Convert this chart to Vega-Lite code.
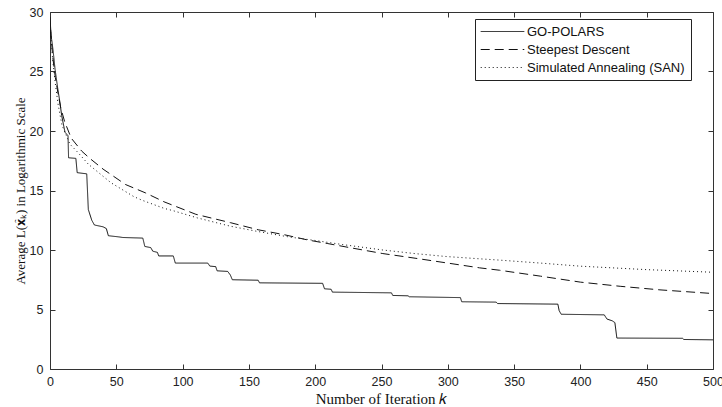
{
  "$schema": "https://vega.github.io/schema/vega-lite/v6.json",
  "width": 663,
  "height": 357,
  "padding": {"left": 50, "top": 12, "right": 9, "bottom": 38},
  "autosize": {"type": "none"},
  "background": "white",
  "data": {
    "values": [
      {"k": 0, "v": 29.6, "method": "GO-POLARS"},
      {"k": 0.8, "v": 28.0, "method": "GO-POLARS"},
      {"k": 1.5, "v": 27.5, "method": "GO-POLARS"},
      {"k": 2.5, "v": 26.6, "method": "GO-POLARS"},
      {"k": 3.8, "v": 25.2, "method": "GO-POLARS"},
      {"k": 5.8, "v": 23.6, "method": "GO-POLARS"},
      {"k": 7.5, "v": 22.4, "method": "GO-POLARS"},
      {"k": 8.8, "v": 21.3, "method": "GO-POLARS"},
      {"k": 11.3, "v": 19.9, "method": "GO-POLARS"},
      {"k": 13.6, "v": 19.6, "method": "GO-POLARS"},
      {"k": 14, "v": 17.75, "method": "GO-POLARS"},
      {"k": 19.5, "v": 17.7, "method": "GO-POLARS"},
      {"k": 20.5, "v": 16.5, "method": "GO-POLARS"},
      {"k": 27.7, "v": 16.4, "method": "GO-POLARS"},
      {"k": 28.9, "v": 13.4, "method": "GO-POLARS"},
      {"k": 31.5, "v": 12.5, "method": "GO-POLARS"},
      {"k": 33.5, "v": 12.1, "method": "GO-POLARS"},
      {"k": 40, "v": 11.95, "method": "GO-POLARS"},
      {"k": 42.5, "v": 11.8, "method": "GO-POLARS"},
      {"k": 44, "v": 11.2, "method": "GO-POLARS"},
      {"k": 52, "v": 11.1, "method": "GO-POLARS"},
      {"k": 55, "v": 11.05, "method": "GO-POLARS"},
      {"k": 70, "v": 11.0, "method": "GO-POLARS"},
      {"k": 71.5, "v": 10.3, "method": "GO-POLARS"},
      {"k": 76, "v": 10.2, "method": "GO-POLARS"},
      {"k": 77.5, "v": 9.9, "method": "GO-POLARS"},
      {"k": 81, "v": 9.8, "method": "GO-POLARS"},
      {"k": 82, "v": 9.5, "method": "GO-POLARS"},
      {"k": 93, "v": 9.5, "method": "GO-POLARS"},
      {"k": 94.5, "v": 8.9, "method": "GO-POLARS"},
      {"k": 119, "v": 8.9, "method": "GO-POLARS"},
      {"k": 120.5, "v": 8.65, "method": "GO-POLARS"},
      {"k": 125, "v": 8.6, "method": "GO-POLARS"},
      {"k": 126, "v": 8.25, "method": "GO-POLARS"},
      {"k": 134, "v": 8.2, "method": "GO-POLARS"},
      {"k": 136, "v": 7.9, "method": "GO-POLARS"},
      {"k": 137.5, "v": 7.5, "method": "GO-POLARS"},
      {"k": 157, "v": 7.46, "method": "GO-POLARS"},
      {"k": 158, "v": 7.24, "method": "GO-POLARS"},
      {"k": 205.6, "v": 7.2, "method": "GO-POLARS"},
      {"k": 207, "v": 6.74, "method": "GO-POLARS"},
      {"k": 212, "v": 6.7, "method": "GO-POLARS"},
      {"k": 213, "v": 6.46, "method": "GO-POLARS"},
      {"k": 257.5, "v": 6.4, "method": "GO-POLARS"},
      {"k": 258.5, "v": 6.18, "method": "GO-POLARS"},
      {"k": 270, "v": 6.15, "method": "GO-POLARS"},
      {"k": 271, "v": 6.07, "method": "GO-POLARS"},
      {"k": 309.5, "v": 6.0, "method": "GO-POLARS"},
      {"k": 310.5, "v": 5.65, "method": "GO-POLARS"},
      {"k": 336.5, "v": 5.62, "method": "GO-POLARS"},
      {"k": 337.5, "v": 5.5, "method": "GO-POLARS"},
      {"k": 383, "v": 5.45, "method": "GO-POLARS"},
      {"k": 384, "v": 4.9, "method": "GO-POLARS"},
      {"k": 385.5, "v": 4.6, "method": "GO-POLARS"},
      {"k": 418, "v": 4.55, "method": "GO-POLARS"},
      {"k": 420, "v": 4.2, "method": "GO-POLARS"},
      {"k": 424, "v": 4.05, "method": "GO-POLARS"},
      {"k": 426, "v": 3.9, "method": "GO-POLARS"},
      {"k": 427.5, "v": 2.6, "method": "GO-POLARS"},
      {"k": 477, "v": 2.58, "method": "GO-POLARS"},
      {"k": 478, "v": 2.48, "method": "GO-POLARS"},
      {"k": 500, "v": 2.45, "method": "GO-POLARS"},

      {"k": 0.5, "v": 28.5, "method": "Steepest Descent"},
      {"k": 2, "v": 26.3, "method": "Steepest Descent"},
      {"k": 4, "v": 24.5, "method": "Steepest Descent"},
      {"k": 6, "v": 23.2, "method": "Steepest Descent"},
      {"k": 8, "v": 22.0, "method": "Steepest Descent"},
      {"k": 11, "v": 20.8, "method": "Steepest Descent"},
      {"k": 16, "v": 19.4, "method": "Steepest Descent"},
      {"k": 24, "v": 18.3, "method": "Steepest Descent"},
      {"k": 30, "v": 17.7, "method": "Steepest Descent"},
      {"k": 40, "v": 16.8, "method": "Steepest Descent"},
      {"k": 57, "v": 15.5, "method": "Steepest Descent"},
      {"k": 72, "v": 14.8, "method": "Steepest Descent"},
      {"k": 86, "v": 14.05, "method": "Steepest Descent"},
      {"k": 110, "v": 13.0, "method": "Steepest Descent"},
      {"k": 136, "v": 12.3, "method": "Steepest Descent"},
      {"k": 157, "v": 11.7, "method": "Steepest Descent"},
      {"k": 176, "v": 11.3, "method": "Steepest Descent"},
      {"k": 194, "v": 10.85, "method": "Steepest Descent"},
      {"k": 209, "v": 10.55, "method": "Steepest Descent"},
      {"k": 226, "v": 10.2, "method": "Steepest Descent"},
      {"k": 251, "v": 9.7, "method": "Steepest Descent"},
      {"k": 276, "v": 9.3, "method": "Steepest Descent"},
      {"k": 300, "v": 8.9, "method": "Steepest Descent"},
      {"k": 324, "v": 8.5, "method": "Steepest Descent"},
      {"k": 339, "v": 8.3, "method": "Steepest Descent"},
      {"k": 370, "v": 7.8, "method": "Steepest Descent"},
      {"k": 400, "v": 7.3, "method": "Steepest Descent"},
      {"k": 430, "v": 6.95, "method": "Steepest Descent"},
      {"k": 460, "v": 6.65, "method": "Steepest Descent"},
      {"k": 500, "v": 6.34, "method": "Steepest Descent"},

      {"k": 0.5, "v": 28.3, "method": "Simulated Annealing (SAN)"},
      {"k": 2, "v": 26.0, "method": "Simulated Annealing (SAN)"},
      {"k": 4, "v": 24.0, "method": "Simulated Annealing (SAN)"},
      {"k": 6, "v": 22.3, "method": "Simulated Annealing (SAN)"},
      {"k": 9, "v": 20.5, "method": "Simulated Annealing (SAN)"},
      {"k": 15, "v": 18.9, "method": "Simulated Annealing (SAN)"},
      {"k": 21, "v": 18.2, "method": "Simulated Annealing (SAN)"},
      {"k": 29, "v": 17.2, "method": "Simulated Annealing (SAN)"},
      {"k": 46, "v": 15.65, "method": "Simulated Annealing (SAN)"},
      {"k": 63, "v": 14.5, "method": "Simulated Annealing (SAN)"},
      {"k": 69, "v": 14.2, "method": "Simulated Annealing (SAN)"},
      {"k": 86, "v": 13.5, "method": "Simulated Annealing (SAN)"},
      {"k": 93, "v": 13.3, "method": "Simulated Annealing (SAN)"},
      {"k": 111, "v": 12.7, "method": "Simulated Annealing (SAN)"},
      {"k": 136, "v": 12.0, "method": "Simulated Annealing (SAN)"},
      {"k": 157, "v": 11.55, "method": "Simulated Annealing (SAN)"},
      {"k": 180, "v": 11.1, "method": "Simulated Annealing (SAN)"},
      {"k": 200, "v": 10.8, "method": "Simulated Annealing (SAN)"},
      {"k": 221, "v": 10.45, "method": "Simulated Annealing (SAN)"},
      {"k": 251, "v": 10.0, "method": "Simulated Annealing (SAN)"},
      {"k": 275, "v": 9.7, "method": "Simulated Annealing (SAN)"},
      {"k": 299, "v": 9.45, "method": "Simulated Annealing (SAN)"},
      {"k": 324, "v": 9.26, "method": "Simulated Annealing (SAN)"},
      {"k": 339, "v": 9.15, "method": "Simulated Annealing (SAN)"},
      {"k": 370, "v": 8.9, "method": "Simulated Annealing (SAN)"},
      {"k": 400, "v": 8.64, "method": "Simulated Annealing (SAN)"},
      {"k": 450, "v": 8.35, "method": "Simulated Annealing (SAN)"},
      {"k": 500, "v": 8.13, "method": "Simulated Annealing (SAN)"}
    ]
  },
  "layer": [
    {
      "mark": {"type": "line", "strokeWidth": 1, "color": "#111", "clip": true},
      "encoding": {
        "x": {
          "field": "k", "type": "quantitative",
          "scale": {"domain": [0, 500], "nice": false, "zero": false},
          "axis": {
            "orient": "bottom", "values": [0, 50, 100, 150, 200, 250, 300, 350, 400, 450, 500],
            "title": "Number of Iteration 𝑘", "titleX": 331, "titleY": 29,
            "titleBaseline": "middle", "titleAlign": "center", "titleFontSize": 15,
            "labelPadding": 11, "labelFlush": false
          }
        },
        "y": {
          "field": "v", "type": "quantitative",
          "scale": {"domain": [0, 30], "nice": false},
          "axis": {
            "orient": "left", "values": [0, 5, 10, 15, 20, 25, 30],
            "title": "Average L(𝐱̂ₖ) in Logarithmic Scale",
            "titleX": -30, "titleY": 178.5, "titleAngle": -90, "titleFontSize": 13,
            "titleAlign": "center", "titleBaseline": "middle",
            "labelPadding": 12, "labelFlush": false
          }
        },
        "strokeDash": {
          "field": "method", "type": "nominal",
          "scale": {
            "domain": ["GO-POLARS", "Steepest Descent", "Simulated Annealing (SAN)"],
            "range": [[1, 0], [9, 5], [1, 3]]
          },
          "legend": {
            "title": null, "orient": "none", "legendX": 425, "legendY": 7,
            "strokeColor": "#222", "fillColor": "white", "padding": 5,
            "symbolType": "stroke", "symbolSize": 1900, "symbolStrokeColor": "#111",
            "symbolStrokeWidth": 1, "labelFont": "Liberation Sans", "labelFontSize": 13,
            "labelColor": "#111", "labelOffset": 2, "labelLimit": 400,
            "clipHeight": 15, "rowPadding": 3, "cornerRadius": 0
          }
        },
        "order": {"value": null}
      }
    },
    {
      "mark": {"type": "line", "opacity": 0},
      "encoding": {
        "x": {
          "field": "k", "type": "quantitative",
          "scale": {"domain": [0, 500], "nice": false, "zero": false},
          "axis": {"orient": "top", "values": [0, 50, 100, 150, 200, 250, 300, 350, 400, 450, 500], "labels": false, "title": null}
        },
        "y": {
          "field": "v", "type": "quantitative",
          "scale": {"domain": [0, 30], "nice": false},
          "axis": {"orient": "right", "values": [0, 5, 10, 15, 20, 25, 30], "labels": false, "title": null}
        },
        "detail": {"field": "method"}
      }
    }
  ],
  "resolve": {"axis": {"x": "independent", "y": "independent"}},
  "config": {
    "view": {"stroke": null},
    "axis": {
      "grid": false, "domainColor": "#333", "tickColor": "#333", "tickSize": -5,
      "labelColor": "#222", "labelFont": "Liberation Sans", "labelFontSize": 12.5,
      "titleFont": "Liberation Serif", "titleFontSize": 14, "titleFontWeight": "normal",
      "titleColor": "#111"
    }
  }
}
